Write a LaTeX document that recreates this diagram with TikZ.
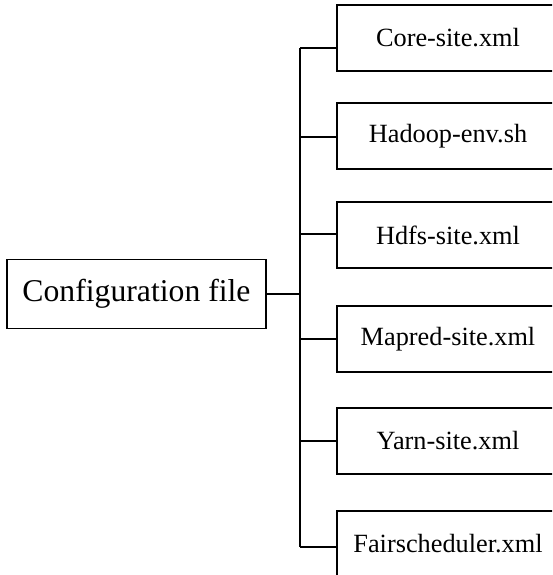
\documentclass[tikz,border=0pt]{standalone}
\usepackage{fontspec}
\setmainfont{Liberation Serif}
\tikzset{
  wire/.style={line width=1.5pt, black},
  rootbox/.style={draw, line width=1.5pt, rectangle, inner sep=0pt,
    minimum width=259pt, minimum height=69pt, align=center,
    font=\fontsize{31.7}{36}\selectfont},
  filebox/.style={draw, line width=1.5pt, rectangle, inner sep=0pt,
    minimum width=222pt, minimum height=66pt, align=center,
    font=\fontsize{26.3}{30}\selectfont},
}
\begin{document}
\begin{tikzpicture}[x=1pt,y=-1pt]
  \useasboundingbox (0,0) rectangle (552,575);
  \clip (0,0) rectangle (552,575);

  % root node
  \node[rootbox] (cfg) at (136.5,294) {Configuration file};

  % configuration files
  \node[filebox] (core)   at (448,38)  {Core-site.xml};
  \node[filebox] (env)    at (448,136) {Hadoop-env.sh};
  \node[filebox] (hdfs)   at (448,235) {Hdfs-site.xml};
  \node[filebox] (mapred) at (448,339) {Mapred-site.xml};
  \node[filebox] (yarn)   at (448,441) {Yarn-site.xml};
  \node[filebox] (fair)   at (448,544) {Fairscheduler.xml};

  % trunk and branch points
  \coordinate (j1) at (300,48);
  \coordinate (j2) at (300,137);
  \coordinate (j3) at (300,234);
  \coordinate (j4) at (300,339);
  \coordinate (j5) at (300,441);
  \coordinate (j6) at (300,547);
  \coordinate (jc) at (300,294);

  \draw[wire] (j1) -- (j6);
  \draw[wire] (cfg.east) -- (jc);
  \draw[wire] (j1) -- (j1 -| core.west);
  \draw[wire] (j2) -- (j2 -| env.west);
  \draw[wire] (j3) -- (j3 -| hdfs.west);
  \draw[wire] (j4) -- (j4 -| mapred.west);
  \draw[wire] (j5) -- (j5 -| yarn.west);
  \draw[wire] (j6) -- (j6 -| fair.west);
\end{tikzpicture}
\end{document}
